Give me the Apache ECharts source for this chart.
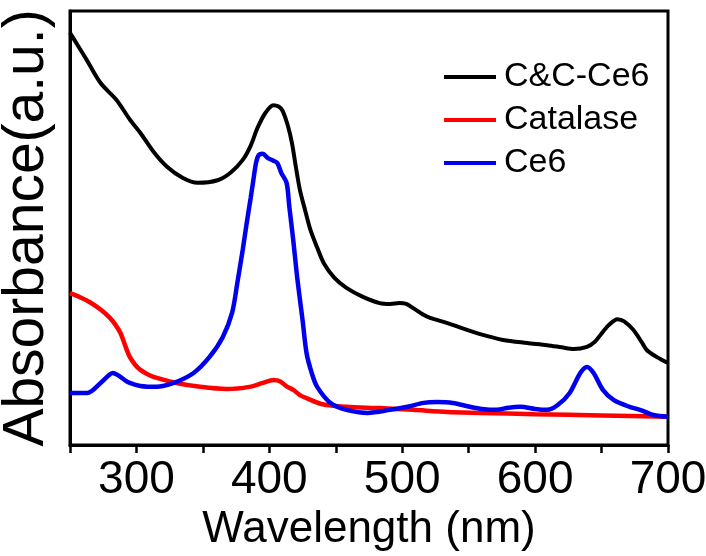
<!DOCTYPE html>
<html>
<head>
<meta charset="utf-8">
<script src="https://cdn.jsdelivr.net/npm/echarts@6/dist/echarts.min.js"></script>
<style>
html,body{margin:0;padding:0;background:#fff;}
#c{width:706px;height:556px;}
</style>
</head>
<body>
<div id="c"></div>
<script>
// Series names
const seriesNames = ['C&C-Ce6', 'Catalase', 'Ce6'];

// C&C-Ce6 (black): wavelength (nm) and absorbance (a.u., relative)
const ccWl  = [250,256,263,273,285,295,303,313,323,335,346,361,371,380,386,391,397,403,407,410,414,417,420,423,427,431,436,441,449,458,470,483,491,498,503,508,515,521,534,546,558,576,594,609,620,629,639,645,649,655,662,667,674,680,684,692,700];
const ccAbs = [95,92,88.5,83.4,79.5,75,71.9,67.5,64.1,61.5,60.4,61,62.8,65.7,69,73,76.5,78.3,78,77,73.5,69.6,64,58.8,54,49.5,45.5,41.9,38.5,36.2,34.2,32.7,32.5,32.7,32.5,31.6,30.2,29.3,28.1,26.8,25.6,24.2,23.5,23.0,22.5,22.1,22.6,23.8,25.3,27.5,29.0,28.5,26.5,23.8,21.9,20.2,18.9];

// Catalase (red)
const catWl  = [250,258,265,273,280,284,288,292,295,299,303,309,316,330,348,368,385,395,403,408,413,418,423,428,440,458,483,508,534,559,600,650,700];
const catAbs = [35.0,34,32.9,31.2,29.3,27.8,25.8,22.5,20.3,18.5,17.3,16.2,15.4,14.3,13.4,12.9,13.4,14.3,15.0,14.7,13.5,12.7,11.5,10.8,9.4,8.8,8.5,8.1,7.6,7.4,7.1,6.8,6.5];

// Ce6 (blue)
const ce6Wl  = [250,263,273,279,282,286,291,295,303,315,328,343,355,365,372,376,380,383,386,388,390,392,395,399,403,406,409,413,415,418,421,425,428,432,436,446,458,474,491,504,516,526,538,551,560,571,580,589,600,609,617,626,634,639,644,651,659,671,680,689,700];
const ce6Abs = [12.0,12.0,14.3,16,16.6,16.1,15,14.3,13.6,13.4,14.3,16.6,20.3,24.9,30.5,37.5,45,51.2,57,61.1,65,66.8,67.1,66.1,65.5,65.0,62.7,60.4,55,47.2,38.5,28.8,21.2,16.5,13.4,9.7,8.1,7.4,8.1,8.8,9.7,9.9,9.7,8.8,8.3,8.1,8.6,8.8,8.3,8.1,9.2,12.0,16.6,18.0,16.6,12.7,10.4,8.8,8.0,6.9,6.5];

// X axis ticks
const xMin = 250, xMax = 700, xTickStep = 50;
const xLabelValues = [300, 400, 500, 600, 700];

function pairs(xs, ys){ return xs.map((x,i)=>[x, ys[i]]); }

const FONT = "'Liberation Sans', Arial, sans-serif";
const chart = echarts.init(document.getElementById('c'), null, {renderer:'canvas'});
chart.setOption({
  animation: false,
  backgroundColor: '#fff',
  grid: { left: 70, right: 38, top: 11, bottom: 111, show: true, borderColor: '#000', borderWidth: 3, backgroundColor: 'transparent', containLabel: false, outerBoundsMode: 'none' },
  legend: {
    orient: 'vertical', left: 439, top: 55,
    itemWidth: 52, itemHeight: 4, itemGap: 9,
    icon: 'rect',
    textStyle: { fontFamily: FONT, fontSize: 34, color: '#000', padding: [0,0,0,3] },
    data: seriesNames
  },
  xAxis: {
    type: 'value', min: xMin, max: xMax, interval: xTickStep,
    name: 'Wavelength (nm)', nameLocation: 'middle', nameGap: 62,
    nameTextStyle: { fontFamily: FONT, fontSize: 44, color: '#000' },
    axisLine: { lineStyle: { color: '#000', width: 3 } },
    axisTick: { show: true, length: 8, lineStyle: { color: '#000', width: 2.5 } },
    axisLabel: { fontFamily: FONT, fontSize: 46, color: '#000', margin: 12,
      formatter: v => xLabelValues.includes(v) ? String(v) : '' },
    splitLine: { show: false }
  },
  yAxis: {
    type: 'value', min: 0, max: 100,
    name: 'Absorbance(a.u.)', nameLocation: 'middle', nameGap: 14,
    nameTextStyle: { fontFamily: FONT, fontSize: 57, color: '#000' },
    axisLine: { lineStyle: { color: '#000', width: 3 } },
    axisTick: { show: false },
    axisLabel: { show: false },
    splitLine: { show: false }
  },
  series: [
    { name: seriesNames[0], type: 'line', data: pairs(ccWl, ccAbs), smooth: 0.3, showSymbol: false, symbol: 'none', lineStyle: { color: '#000', width: 4 }, itemStyle: { color: '#000' }, z: 3 },
    { name: seriesNames[1], type: 'line', data: pairs(catWl, catAbs), smooth: 0.3, showSymbol: false, symbol: 'none', lineStyle: { color: '#ff0000', width: 4.5 }, itemStyle: { color: '#ff0000' }, z: 2 },
    { name: seriesNames[2], type: 'line', data: pairs(ce6Wl, ce6Abs), smooth: 0.3, showSymbol: false, symbol: 'none', lineStyle: { color: '#0000ee', width: 4.5 }, itemStyle: { color: '#0000ee' }, z: 4 }
  ]
});
</script>
</body>
</html>
